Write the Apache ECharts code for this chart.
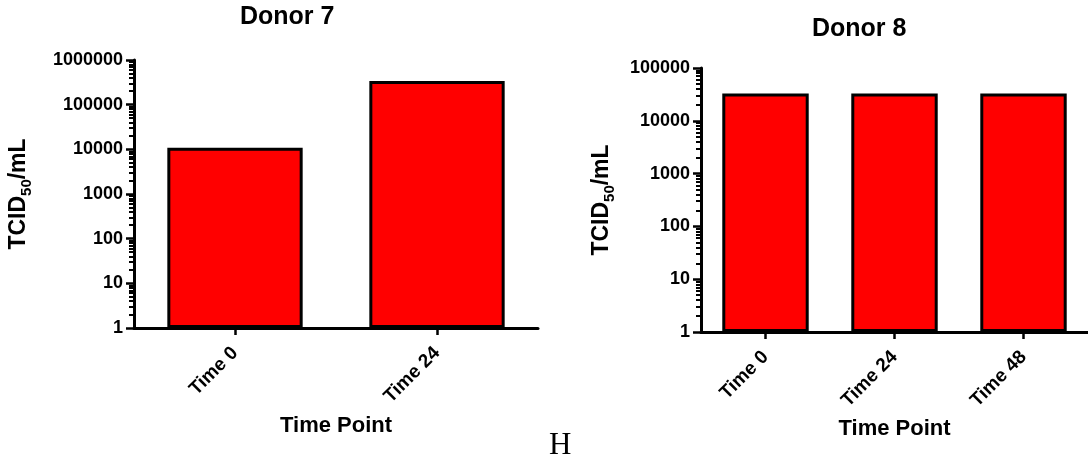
<!DOCTYPE html>
<html>
<head>
<meta charset="utf-8">
<script src="https://cdn.jsdelivr.net/npm/echarts@6/dist/echarts.min.js"></script>
<style>
  html, body { margin: 0; padding: 0; background: #fff; }
  #chart { width: 1088px; height: 463px; }
</style>
</head>
<body>
<div id="chart"></div>
<script>
// data
const donor7Categories = ['Time 0', 'Time 24']
const donor7Values = [10800, 340000]
const donor8Categories = ['Time 0', 'Time 24', 'Time 48']
const donor8Values = [33000, 33000, 33000]
// minor tick multipliers inside each decade
const minorMultipliers = [2, 3, 4, 5, 6, 7, 8, 9]

const FONT = 'Liberation Sans, Arial, sans-serif'

function minorTicks(decades) {
  const out = []
  for (let d = 0; d < decades; d++) {
    minorMultipliers.forEach(k => out.push(d + Math.log10(k)))
  }
  return out
}

function logAxis(gridIndex, max, nameGap) {
  return {
    type: 'log',
    gridIndex,
    logBase: 10,
    min: 1,
    max,
    interval: 1,
    name: '{a|TCID}{s|50}{a|/mL}',
    nameLocation: 'middle',
    nameGap,
    nameTextStyle: {
      rich: {
        a: { fontFamily: FONT, fontWeight: 'bold', fontSize: 23, color: '#000', lineHeight: 25, verticalAlign: 'bottom' },
        s: { fontFamily: FONT, fontWeight: 'bold', fontSize: 15, color: '#000', lineHeight: 25, verticalAlign: 'bottom', padding: [0, 0, -4, 0] },
      },
    },
    axisLine: { show: true, lineStyle: { color: '#000', width: 3 } },
    axisTick: { show: true, length: 8, lineStyle: { color: '#000', width: 2.5 } },
    axisLabel: {
      margin: 11,
      color: '#000',
      fontFamily: FONT,
      fontWeight: 'bold',
      fontSize: 18,
      formatter: v => String(Math.round(v)),
    },
    splitLine: { show: false },
  }
}

// hidden helper axis carrying the log minor ticks
function minorAxis(gridIndex, decades) {
  return {
    type: 'value',
    gridIndex,
    position: 'left',
    min: 0,
    max: decades,
    axisLine: { show: false },
    axisLabel: { show: false },
    splitLine: { show: false },
    axisTick: {
      show: true,
      length: 5,
      customValues: minorTicks(decades),
      lineStyle: { color: '#000', width: 2 },
    },
  }
}

function catAxis(gridIndex, data, nameGap) {
  return {
    type: 'category',
    gridIndex,
    data,
    name: 'Time Point',
    nameLocation: 'middle',
    nameGap,
    nameTextStyle: { fontFamily: FONT, fontWeight: 'bold', fontSize: 22, color: '#000' },
    axisLine: { show: true, lineStyle: { color: '#000', width: 3 } },
    axisTick: { show: true, alignWithLabel: true, length: 7, lineStyle: { color: '#000', width: 2.5 } },
    axisLabel: {
      rotate: 45,
      margin: 22,
      color: '#000',
      fontFamily: FONT,
      fontWeight: 'bold',
      fontSize: 19,
      interval: 0,
    },
  }
}

function barSeries(xAxisIndex, yAxisIndex, data) {
  return {
    type: 'bar',
    xAxisIndex,
    yAxisIndex,
    data,
    barCategoryGap: '33%',
    itemStyle: { color: '#ff0000', borderColor: '#000', borderWidth: 3 },
    silent: true,
  }
}

const chart = echarts.init(document.getElementById('chart'))
chart.setOption({
  animation: false,
  backgroundColor: '#fff',
  title: [
    { text: 'Donor 7', left: 240, top: 5, padding: 0, textStyle: { fontFamily: FONT, fontWeight: 'bold', fontSize: 25, color: '#000' } },
    { text: 'Donor 8', left: 812, top: 17, padding: 0, textStyle: { fontFamily: FONT, fontWeight: 'bold', fontSize: 25, color: '#000' } },
  ],
  grid: [
    { left: 134, top: 60, width: 404, height: 268 },
    { left: 701, top: 68, width: 392, height: 264 },
  ],
  xAxis: [
    catAxis(0, donor7Categories, 87),
    catAxis(1, donor8Categories, 85),
  ],
  yAxis: [
    logAxis(0, 1000000, 104),
    minorAxis(0, 6),
    logAxis(1, 100000, 88),
    minorAxis(1, 5),
  ],
  series: [
    barSeries(0, 0, donor7Values),
    barSeries(1, 2, donor8Values),
  ],
  graphic: [
    {
      type: 'text',
      left: 549,
      top: 430,
      style: { text: 'H', font: '31px "Liberation Serif", "Times New Roman", serif', fill: '#000' },
    },
  ],
})
window.addEventListener('resize', () => chart.resize())
</script>
</body>
</html>
